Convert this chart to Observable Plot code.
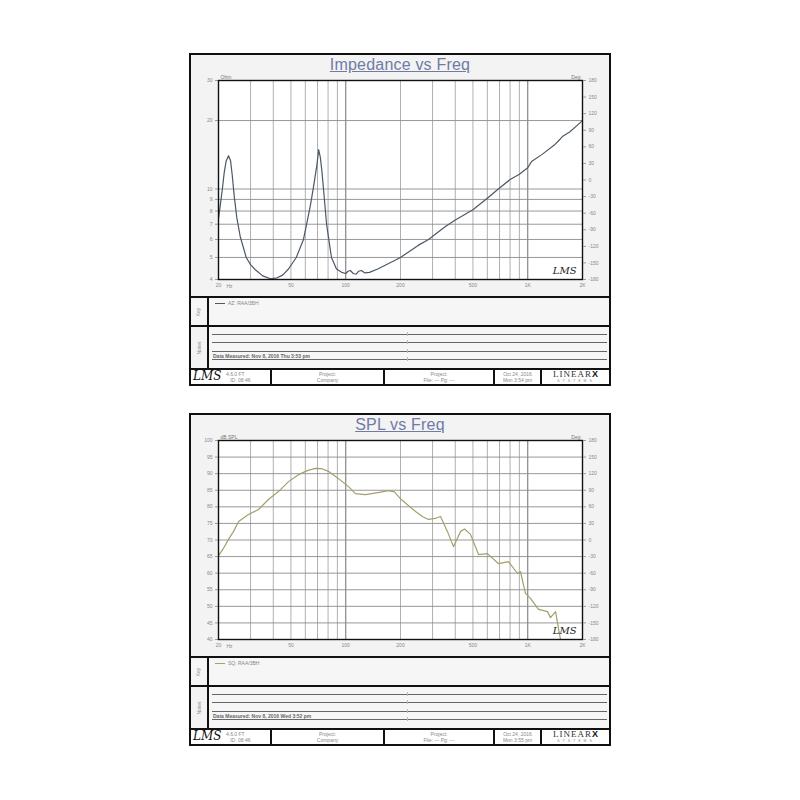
<!DOCTYPE html>
<html><head><meta charset="utf-8">
<script src="https://cdn.jsdelivr.net/npm/d3@7"></script>
<script src="https://cdn.jsdelivr.net/npm/@observablehq/plot@0.6"></script>
<style>
body{margin:0;background:#fff;font-family:"Liberation Sans",Arial,sans-serif;}
#root{position:relative;width:800px;height:800px;overflow:hidden;}
.abs{position:absolute;box-sizing:border-box;}
.tiny{font-size:5px;color:#888;line-height:6px;white-space:nowrap;}
</style>
</head><body><div id="root"></div>
<script>
// ---------- data ----------
const titles = ["Impedance vs Freq", "SPL vs Freq"];
const xTickFreqs = [20, 50, 100, 200, 500, 1000, 2000];
const xTickLabels = ["20", "50", "100", "200", "500", "1K", "2K"];
const freqGrid = [20,30,40,50,60,70,80,90,100,200,300,400,500,600,700,800,900,1000,2000];

const ohmTicks = [4,5,6,7,8,9,10,20,30];
const ohmTickLabels = ["4","5","6","7","8","9","10","20","30"];
const dbTicks = [40,45,50,55,60,65,70,75,80,85,90,95,100];
const dbTickLabels = ["40","45","50","55","60","65","70","75","80","85","90","95","100"];
const degTicks = [-180,-150,-120,-90,-60,-30,0,30,60,90,120,150,180];
const degTickLabels = ["-180","-150","-120","-90","-60","-30","0","30","60","90","120","150","180"];

const zFreq = [20,20.5,21,21.5,22,22.7,23.3,23.8,24.4,25.2,26.3,28.4,30,32,35,38.6,42,45,48.5,53.5,58.6,61,64,66.5,69.5,71,72.5,74,75.5,78.5,83.5,89,95,100,103,106,110,114,118,122,127,135,150,200,250,285,350,400,500,600,700,800,900,1000,1050,1200,1400,1500,1550,1700,1850,2000];
const zOhm  = [7.4,8.6,10,11.8,13.2,14,13.3,11.5,9.3,7.5,6.2,5,4.65,4.4,4.15,4.03,4.07,4.18,4.45,5,6,7,8.5,10.2,12.8,14.9,13.8,12,10,7,5,4.45,4.3,4.25,4.35,4.38,4.25,4.22,4.35,4.38,4.28,4.3,4.45,5,5.65,6,6.8,7.3,8.1,9.1,10.1,11,11.6,12.4,13.2,14.2,15.6,16.5,17,17.8,18.9,20];

const splFreq = [20,21.3,22.7,24.2,25.8,29.2,33.2,37.6,42.7,48.5,55,62,68.2,74,80.4,91.3,103.6,113,128.5,150,172,185,202,220,242,265,285,310,332,362,391,428,450,485,537,601,690,784,879,912,972,1036,1146,1285,1334,1422,1514,1560];
const splDb  = [65.3,67.5,70.2,72.6,75.6,77.7,79.2,82.2,84.6,87.6,89.7,91,91.6,91.5,90.7,88.5,86.1,84,83.7,84.3,84.9,84.5,82.2,80.5,78.6,77,76.2,76.5,77.1,72.6,68,72.6,73.3,71.7,65.6,65.9,62.9,63.5,59.9,60.5,53.9,52.4,49.1,48.4,46.6,48.4,40,36];

const keyLabels = ["AZ: RAA/3BH", "SQ: RAA/3BH"];
const noteLabels = ["Data Measured: Nov 8, 2016  Thu 3:53 pm", "Data Measured: Nov 8, 2016  Wed 3:52 pm"];

// ---------- helpers ----------
const root = document.getElementById("root");
function el(css, html, cls){
  const d = document.createElement("div");
  d.className = "abs " + (cls||"");
  d.style.cssText = css;
  if (html != null) d.innerHTML = html;
  root.appendChild(d);
  return d;
}
const fmt = (ticks, labels) => d => labels[ticks.indexOf(d)] ?? "";

function panel(T, idx){
  const L = 189, W = 422;
  // frame background
  el(`left:${L}px;top:${T-1}px;width:${W}px;height:333px;background:#f3f3f3;`);
  // title
  el(`left:${L}px;top:${T+2}px;width:${W}px;text-align:center;font-size:16px;color:#6f7ba3;text-decoration:underline;letter-spacing:0.2px;`, titles[idx]);

  // main plot
  const isZ = idx === 0;
  const data = isZ ? zFreq.map((f,i)=>({f, v:zOhm[i]})) : splFreq.map((f,i)=>({f, v:splDb[i]}));
  const yTicks = isZ ? ohmTicks : dbTicks;
  const yLabels = isZ ? ohmTickLabels : dbTickLabels;
  const chart = Plot.plot({
    width: 420, height: 242,
    marginLeft: 28, marginRight: 28, marginTop: 26, marginBottom: 17,
    style: {background: "transparent", fontFamily: "Liberation Sans, Arial, sans-serif", fontSize: "5px", color: "#777", overflow: "visible"},
    x: {type: "log", domain: [20, 2000]},
    y: isZ ? {type: "log", domain: [4, 30]} : {type: "linear", domain: [40, 100]},
    marks: [
      Plot.frame({fill: "white"}),
      Plot.ruleX(freqGrid, {stroke: "#a8a8a8", strokeWidth: 0.9}),
      Plot.ruleX([100, 1000], {stroke: "#8a8a8a", strokeWidth: 1}),
      Plot.ruleY(yTicks, {stroke: "#8c8c8c", strokeWidth: 0.9}),
      Plot.axisX({ticks: xTickFreqs, tickFormat: fmt(xTickFreqs, xTickLabels), tickSize: 0, tickPadding: 4, label: null, fill: "#888"}),
      Plot.axisY({ticks: yTicks, tickFormat: fmt(yTicks, yLabels), tickSize: 3, tickPadding: 3, label: null, fill: "#888", stroke: "#999"}),
      Plot.line(data, {x: "f", y: "v", stroke: isZ ? "#4c5866" : "#a3a06c", strokeWidth: 1.2, clip: true}),
      Plot.frame({stroke: "#111", strokeWidth: 1.4}),
      Plot.text([isZ ? "Ohm" : "dB SPL"], {frameAnchor: "top-left", dx: 2, dy: -5, fontSize: 5, fill: "#777", textAnchor: "start"}),
      Plot.text(["Hz"], {frameAnchor: "bottom-left", dx: 8, dy: 8, fontSize: 5, fill: "#888", textAnchor: "start"}),
      Plot.text(["LMS"], {frameAnchor: "bottom-right", dx: -6, dy: -6, fontSize: 10, fontStyle: "italic", fontFamily: "DejaVu Serif", fill: "#222", textAnchor: "end"})
    ]
  });
  chart.style.position = "absolute"; chart.style.left = "190px"; chart.style.top = T + "px";
  root.appendChild(chart);

  // right phase axis (own scale)
  const phase = Plot.plot({
    width: 420, height: 242,
    marginLeft: 28, marginRight: 28, marginTop: 26, marginBottom: 17,
    style: {background: "transparent", fontFamily: "Liberation Sans, Arial, sans-serif", fontSize: "5px", color: "#777", overflow: "visible"},
    x: {type: "log", domain: [20, 2000], axis: null},
    y: {type: "linear", domain: [-180, 180]},
    marks: [
      Plot.axisY({anchor: "right", ticks: degTicks, tickFormat: fmt(degTicks, degTickLabels), tickSize: 3, tickPadding: 3, label: null, fill: "#888", stroke: "#999"}),
      Plot.text(["Deg"], {frameAnchor: "top-right", dx: -2, dy: -5, fontSize: 5, fill: "#777", textAnchor: "end"})
    ]
  });
  phase.style.position = "absolute"; phase.style.left = "190px"; phase.style.top = T + "px";
  root.appendChild(phase);

  // Key section
  const kT = T + 242;
  el(`left:${L}px;top:${kT}px;width:${W}px;height:2px;background:#111;`);
  el(`left:${L+1}px;top:${kT+2}px;width:${W-2}px;height:27px;background:#f6f6f6;`);
  el(`left:207px;top:${kT}px;width:2px;height:72px;background:#111;`);
  el(`left:190px;top:${kT+2}px;width:17px;height:27px;display:flex;align-items:center;justify-content:center;`, `<span style="transform:rotate(-90deg);font-size:5px;color:#888;">Key</span>`);
  el(`left:215px;top:${kT+7}px;width:10px;height:1px;background:${isZ ? "#4c5866" : "#a3a06c"};`);
  el(`left:228px;top:${kT+4}px;`, keyLabels[idx], "tiny");

  // Notes section
  const nT = kT + 29;
  el(`left:${L}px;top:${nT}px;width:${W}px;height:2px;background:#111;`);
  el(`left:209px;top:${nT+2}px;width:400px;height:41px;background:#f6f6f6;`);
  el(`left:190px;top:${nT+2}px;width:17px;height:41px;display:flex;align-items:center;justify-content:center;`, `<span style="transform:rotate(-90deg);font-size:5px;color:#888;">Notes</span>`);
  [9, 17, 26, 34].forEach(dy => {
    el(`left:212px;top:${nT+dy}px;width:395px;height:1px;background:#666;`);
    el(`left:407px;top:${nT+dy-2}px;width:1px;height:4px;background:#bbb;`);
  });
  el(`left:213px;top:${nT+28}px;font-weight:bold;color:#666;text-decoration:underline;`, noteLabels[idx], "tiny");

  // Footer
  const fT = nT + 43;
  el(`left:${L}px;top:${fT}px;width:${W}px;height:2px;background:#111;`);
  el(`left:191px;top:${fT+2}px;width:418px;height:14px;background:#fff;`);
  [270, 383, 493, 540].forEach(x => el(`left:${x}px;top:${fT}px;width:2px;height:16px;background:#111;`));
  el(`left:193px;top:${fT+1}px;font-size:12px;font-style:italic;font-family:'DejaVu Serif';color:#111;line-height:14px;`, "LMS");
  el(`left:226px;top:${fT+3}px;`, "4.6.0 FT<br>&nbsp;&nbsp;&nbsp;ID: 08:46", "tiny");
  el(`left:272px;top:${fT+3}px;width:111px;text-align:center;`, "Project:<br>Company", "tiny");
  el(`left:385px;top:${fT+3}px;width:108px;text-align:center;`, "Project:<br>File: ---  Pg: ---", "tiny");
  el(`left:495px;top:${fT+3}px;width:45px;text-align:center;`, idx === 0 ? "Oct 24, 2016<br>Mon 3:54 pm" : "Oct 24, 2016<br>Mon 3:55 pm", "tiny");
  el(`left:543px;top:${fT+2}px;width:66px;height:9px;text-align:center;font-family:'Liberation Serif',serif;font-size:9px;letter-spacing:1px;color:#333;line-height:9px;`, "LINEAR<b style='font-family:Liberation Sans;color:#111'>X</b>");
  el(`left:543px;top:${fT+12}px;width:66px;height:4px;text-align:center;letter-spacing:3px;font-size:3.5px;line-height:3.5px;color:#888;`, "SYSTEMS", "");

  // outer frame border on top of everything
  el(`left:${L}px;top:${T-1}px;width:${W}px;height:333px;border:2px solid #111;`);
}

panel(54, 0);
panel(414, 1);
</script>
</body></html>
